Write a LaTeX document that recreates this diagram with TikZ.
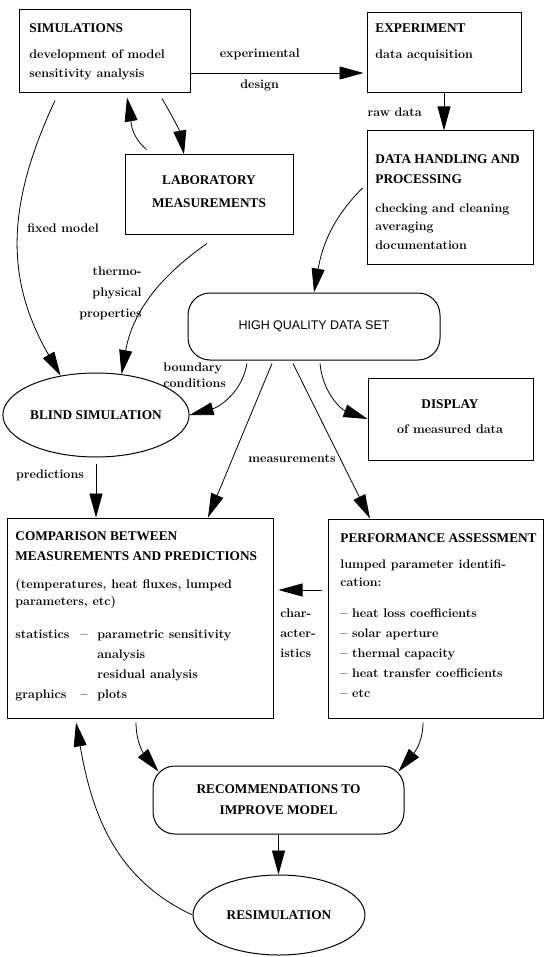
\documentclass[tikz,border=0pt]{standalone}
\usepackage{fontspec}
\newfontfamily\headfont{Liberation Serif}
\newfontfamily\hqfont{Liberation Sans}
\usetikzlibrary{arrows.meta,shapes}
\tikzset{
  box/.style={draw=black,line width=1pt,inner sep=0pt},
  rbox/.style={box,rounded corners=22pt},
  oval/.style={box,shape=ellipse,font=\headfont\bfseries\fontsize{13.3}{19.5}\selectfont},
  head/.style={inner sep=0pt,anchor=north west,align=left,font=\headfont\bfseries\fontsize{13.3}{19.5}\selectfont},
  body/.style={inner sep=0pt,anchor=north west,align=left,font=\bfseries\fontsize{12.5}{19}\selectfont},
  lbl/.style={inner sep=0pt,font=\bfseries\fontsize{12.5}{19}\selectfont}
}
\begin{document}
\begin{tikzpicture}[x=1pt,y=1pt,->,>={Triangle[length=24pt,width=13pt]},line width=0.8pt]
                \useasboundingbox (0,0) rectangle (544,-957);
                \node[box,minimum width=171pt,minimum height=83pt](sim)at(104.5,-51.5){};
                \node[box,minimum width=154pt,minimum height=80pt](exp)at(444,-53){};
                \node[box,minimum width=166pt,minimum height=134pt](data)at(450,-198){};
                \node[box,minimum width=168pt,minimum height=80pt](lab)at(209,-195){};
                \node[rbox,minimum width=252pt,minimum height=67pt,font=\hqfont\fontsize{12.5}{15}\selectfont](hq)at(314,-326.5){HIGH QUALITY DATA SET};
                \node[box,minimum width=165pt,minimum height=82pt](disp)at(450.5,-419){};
                \node[oval,minimum width=168pt,minimum height=84pt](blind)at(96,-415){BLIND SIMULATION};
                \node[box,minimum width=266pt,minimum height=200pt](comp)at(140,-618){};
                \node[box,minimum width=215pt,minimum height=199pt](perf)at(435.5,-618.5){};
                \node[rbox,minimum width=251pt,minimum height=68pt,align=center,font=\headfont\bfseries\fontsize{13.3}{21}\selectfont](rec)at(278.5,-800){RECOMMENDATIONS TO\\IMPROVE MODEL};
                \node[oval,minimum width=172pt,minimum height=80pt](res)at(279,-915){RESIMULATION};

                \node[head](simhead)at(29,-23.6){SIMULATIONS};
                \node[body](simbody)at(29,-49.1){development of model\\sensitivity analysis};
                \node[head](exphead)at(375,-23.6){EXPERIMENT};
                \node[body](expbody)at(375,-49.1){data acquisition};
                \node[head](datahead)at(375,-154.6){DATA HANDLING AND\\PROCESSING};
                \node[body](databody)at(375,-203.1){checking and cleaning\\[-0.5pt]averaging\\[-0.5pt]documentation};
                \node[head,anchor=center,align=center](labtext)at(209,-191.5){LABORATORY\\[3.5pt]MEASUREMENTS};
                \node[head,anchor=north,align=center](disphead)at(450,-399.6){DISPLAY};
                \node[body,anchor=north,align=center](dispbody)at(450,-424.1){of measured data};
                \node[head](comphead)at(15,-531.6){COMPARISON BETWEEN\\MEASUREMENTS AND PREDICTIONS};
                \node[body,font=\bfseries\fontsize{12.5}{20}\selectfont](compbody)at(15,-578.4){(temperatures, heat fluxes, lumped\\[-3pt]parameters, etc)\\[13pt]%
                  \makebox[65pt][l]{statistics}\makebox[17pt][l]{--}parametric sensitivity\\\hspace*{82pt}analysis\\\hspace*{82pt}residual analysis\\%
                  \makebox[65pt][l]{graphics}\makebox[17pt][l]{--}plots};
                \node[head](perfhead)at(340,-533.6){PERFORMANCE ASSESSMENT};
                \node[body,font=\bfseries\fontsize{12.5}{20}\selectfont](perfbody)at(340,-559.1){lumped parameter identifi-\\[-2pt]cation:\\[11pt]%
                  -- heat loss coefficients\\-- solar aperture\\-- thermal capacity\\-- heat transfer coefficients\\-- etc};

                \node[lbl](lfix)at(63,-228){fixed model};
                \node[lbl,anchor=east,align=right,font=\bfseries\fontsize{12.5}{21}\selectfont](lthermo)at(142,-293.6){thermo-\\physical\\properties};
                \node[lbl,anchor=north west,align=left,font=\bfseries\fontsize{12.5}{16}\selectfont](lbound)at(163,-362.1){boundary\\conditions};
                \node[lbl](lmeas)at(292,-459){measurements};
                \node[lbl](lpred)at(50,-475){predictions};
                \node[lbl,anchor=north west,align=left,font=\bfseries\fontsize{12.5}{20}\selectfont](lchar)at(280,-608.1){char-\\acter-\\istics};

                \path([yshift=-21.5pt]sim.east) edge node[lbl,above=13pt,pos=0.4](lexp){experimental} node[lbl,below=6pt,pos=0.4](ldes){design} ([yshift=-20pt,xshift=-3pt]exp.west)
                (exp.south) edge node[lbl,left=22pt](lraw){raw data} (exp.south |- data.north)
                ([yshift=10pt,xshift=-4pt]data.west) edge[out=225,in=80] (hq.north)
                ([xshift=57.5pt,yshift=-5pt]sim.south) edge[out=-60,in=100] ([xshift=-25pt]lab.north)
                ([xshift=22pt,yshift=5pt]lab.north west) edge[out=140,in=-80] ([xshift=22.5pt,yshift=-4pt]sim.south)
                ([xshift=-49.5pt,yshift=-7pt]sim.south) edge[out=245,in=120,looseness=1.05] (blind.132)
                ([xshift=-2pt,yshift=-8pt]lab.south) edge[out=215,in=80] (blind.58)
                ([xshift=-67pt,yshift=-3pt]hq.south) edge[out=260,in=15] (blind.east)
                ([xshift=-42pt,yshift=-3pt]hq.south) edge ([xshift=68pt]comp.north)
                ([xshift=-21pt,yshift=-3pt]hq.south) edge ([xshift=-65.5pt]perf.north)
                ([xshift=6pt,yshift=-3pt]hq.south) edge[out=275,in=160] (disp.west)
                ([yshift=-6pt]blind.south) edge (blind.south |- comp.north)
                ([shift={(-6pt,28.5pt)}]perf.west) edge ([shift={(5pt,28pt)}]comp.east)
                ([xshift=-4pt,yshift=-4pt]comp.south) edge[out=270,in=130] ([shift={(6pt,-6pt)}]rec.north west)
                ([xshift=-12.5pt,yshift=-4pt]perf.south) edge[out=270,in=50] ([shift={(-6pt,-6pt)}]rec.north east)
                (rec.south) edge (rec.south |- res.north)
                (res.west) edge[out=155,in=280] ([xshift=-64pt,yshift=-4pt]comp.south);
            \end{tikzpicture}
\end{document}
